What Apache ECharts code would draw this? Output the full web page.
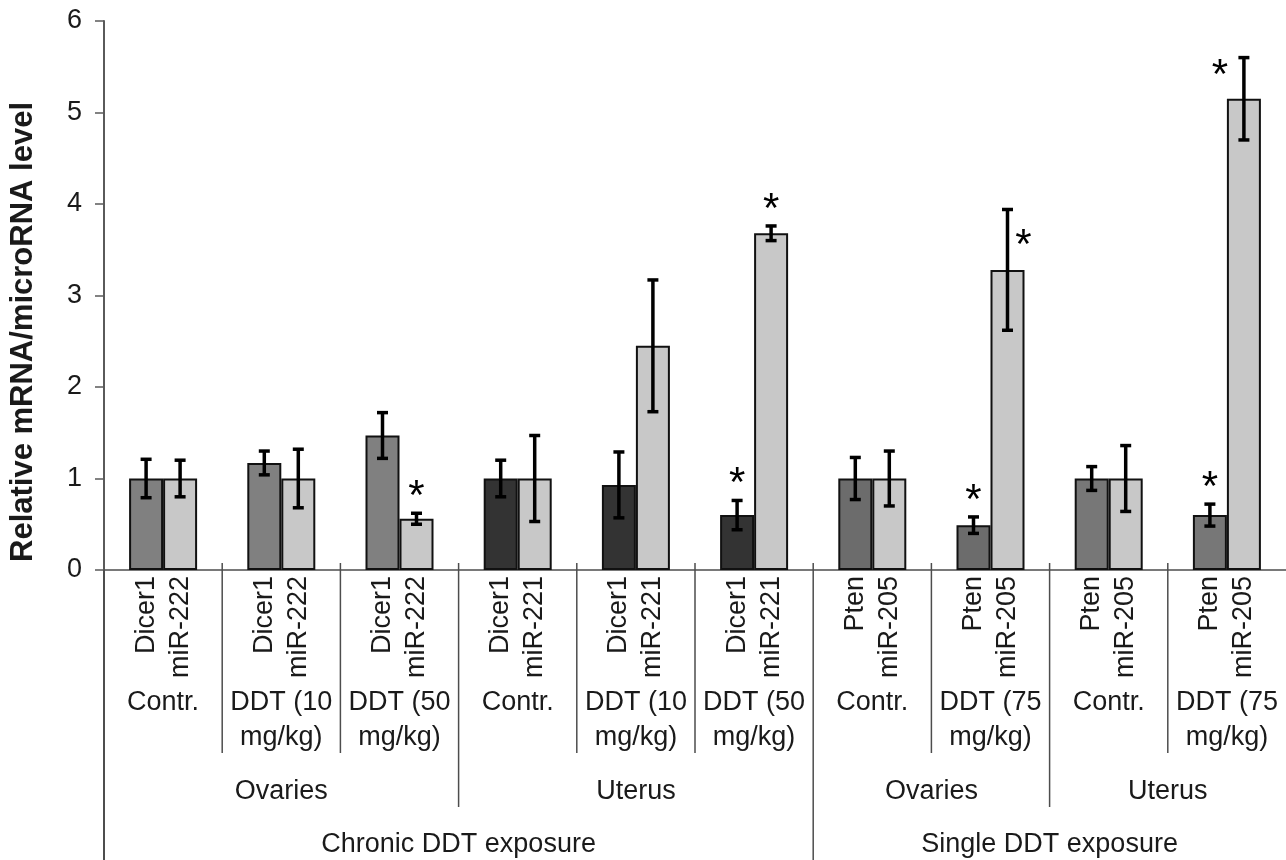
<!DOCTYPE html>
<html>
<head>
<meta charset="utf-8">
<script src="https://cdn.jsdelivr.net/npm/echarts@6/dist/echarts.min.js"></script>
<style>
  html, body { margin: 0; padding: 0; background: #ffffff; }
  #chart { width: 1286px; height: 860px; }
</style>
</head>
<body>
<div id="chart"></div>
<script>
// ---------- data ----------
const categories = ['Contr.', 'DDT (10\nmg/kg)', 'DDT (50\nmg/kg)', 'Contr.', 'DDT (10\nmg/kg)', 'DDT (50\nmg/kg)', 'Contr.', 'DDT (75\nmg/kg)', 'Contr.', 'DDT (75\nmg/kg)'];
const targetGenes = ['Dicer1', 'Dicer1', 'Dicer1', 'Dicer1', 'Dicer1', 'Dicer1', 'Pten', 'Pten', 'Pten', 'Pten'];
const microRNAs = ['miR-222', 'miR-222', 'miR-222', 'miR-221', 'miR-221', 'miR-221', 'miR-205', 'miR-205', 'miR-205', 'miR-205'];
const tissues = ['Ovaries', 'Ovaries', 'Ovaries', 'Uterus', 'Uterus', 'Uterus', 'Ovaries', 'Ovaries', 'Uterus', 'Uterus'];
const exposures = ['Chronic DDT exposure', 'Chronic DDT exposure', 'Chronic DDT exposure', 'Chronic DDT exposure', 'Chronic DDT exposure', 'Chronic DDT exposure', 'Single DDT exposure', 'Single DDT exposure', 'Single DDT exposure', 'Single DDT exposure'];

const geneLevels = [1.00, 1.17, 1.47, 1.00, 0.93, 0.60, 1.00, 0.49, 1.00, 0.60];
const geneErrors = [0.21, 0.13, 0.25, 0.20, 0.36, 0.16, 0.23, 0.09, 0.13, 0.12];
const mirLevels  = [1.00, 1.00, 0.56, 1.00, 2.45, 3.68, 1.00, 3.28, 1.00, 5.15];
const mirErrors  = [0.20, 0.32, 0.06, 0.47, 0.72, 0.08, 0.30, 0.66, 0.36, 0.45];
const geneSignificant = [false, false, false, false, false, true, false, true, false, true];
const mirSignificant  = [false, false, true, false, false, true, false, true, false, true];

const yMin = 0, yMax = 6, yInterval = 1;
const yAxisTitle = 'Relative mRNA/microRNA level';

// ---------- styles ----------
const FONT = '"Liberation Sans", Arial, sans-serif';
const FS = 27;
const TEXT_COLOR = '#1a1a1a';
const LINE_COLOR = '#4d4d4d';
const geneColorFor = (exp, tis) => {
  if (exp.startsWith('Chronic')) return tis === 'Ovaries' ? '#808080' : '#333333';
  return tis === 'Ovaries' ? '#6c6c6c' : '#777777';
};
const MIR_COLOR = '#c8c8c8';
const BAR_W = 34;
// star placement overrides (group index - series side)
const starPlacement = { '7-1': 'right', '9-1': 'left' };

// ---------- derived ----------
const errorData = [];
geneLevels.forEach((v, i) => errorData.push([i, v - geneErrors[i], v + geneErrors[i], 0]));
mirLevels.forEach((v, i) => errorData.push([i, v - mirErrors[i], v + mirErrors[i], 1]));

const starData = [];
geneSignificant.forEach((s, i) => { if (s) starData.push([i, geneLevels[i] + geneErrors[i], 0]); });
mirSignificant.forEach((s, i) => { if (s) starData.push([i, mirLevels[i] + mirErrors[i], 1]); });

function spans(keys) {
  const out = [];
  keys.forEach((k, i) => {
    if (i === 0 || k !== keys[i - 1]) out.push({ key: k, start: i, end: i });
    else out[out.length - 1].end = i;
  });
  return out;
}
const tissueKeys = tissues.map((t, i) => exposures[i] + '|' + t);
const tissueSpans = spans(tissueKeys).map(s => ({ ...s, name: s.key.split('|')[1] }));
const exposureSpans = spans(exposures).map(s => ({ ...s, name: s.key }));

const labelData = categories.map((c, i) => [i, 0]);

const chart = echarts.init(document.getElementById('chart'));

function txt(x, y, text, opts) {
  const style = Object.assign({
    text: text, fill: TEXT_COLOR, font: FS + 'px ' + FONT,
    align: 'center', verticalAlign: 'middle',
    textAlign: 'center', textVerticalAlign: 'middle'
  }, opts || {});
  const el = { type: 'text', x: x, y: y, style: style, silent: true };
  if (style.rotation !== undefined) { el.rotation = style.rotation; delete style.rotation; }
  return el;
}
function ln(x1, y1, x2, y2, w) {
  return { type: 'line', shape: { x1, y1, x2, y2 }, style: { stroke: LINE_COLOR, lineWidth: w || 1.5 }, silent: true };
}

const option = {
  animation: false,
  backgroundColor: '#ffffff',
  grid: { left: 104, right: -12, top: 21, bottom: 290 },
  xAxis: {
    type: 'category',
    data: categories,
    axisLine: { show: true, lineStyle: { color: LINE_COLOR, width: 1.5 } },
    axisTick: { show: false },
    axisLabel: { show: false },
    splitLine: { show: false }
  },
  yAxis: {
    type: 'value',
    min: yMin, max: yMax, interval: yInterval,
    axisLine: { show: true, lineStyle: { color: '#5a5a5a', width: 2 } },
    axisTick: { show: true, length: 9, lineStyle: { color: '#5a5a5a', width: 1.5 } },
    axisLabel: { fontFamily: FONT, fontSize: FS, color: TEXT_COLOR, margin: 22 },
    splitLine: { show: false }
  },
  graphic: [{
    type: 'text', x: 23, y: 332, rotation: Math.PI / 2, silent: true,
    style: {
      text: yAxisTitle, font: 'bold 31px ' + FONT, fill: TEXT_COLOR,
      align: 'center', verticalAlign: 'middle', textAlign: 'center', textVerticalAlign: 'middle'
    }
  }],
  series: [
    {
      type: 'bar', name: 'gene', barWidth: BAR_W, barGap: '0%',
      data: geneLevels.map((v, i) => ({ value: v, itemStyle: { color: geneColorFor(exposures[i], tissues[i]) } })),
      itemStyle: { borderColor: '#111', borderWidth: 2 }
    },
    {
      type: 'bar', name: 'microRNA', barWidth: BAR_W, barGap: '0%',
      data: mirLevels,
      itemStyle: { color: MIR_COLOR, borderColor: '#111', borderWidth: 2 }
    },
    {
      type: 'custom', name: 'errors', clip: false, z: 5,
      data: errorData,
      renderItem: function (params, api) {
        const i = api.value(0), side = api.value(3);
        const lo = api.coord([i, api.value(1)]);
        const hi = api.coord([i, api.value(2)]);
        const x = lo[0] + (side === 0 ? -BAR_W / 2 : BAR_W / 2);
        const cap = 5.5;
        const st = { stroke: '#000', lineWidth: 3.5 };
        return {
          type: 'group', children: [
            { type: 'line', shape: { x1: x, y1: lo[1], x2: x, y2: hi[1] }, style: st },
            { type: 'line', shape: { x1: x - cap, y1: lo[1], x2: x + cap, y2: lo[1] }, style: st },
            { type: 'line', shape: { x1: x - cap, y1: hi[1], x2: x + cap, y2: hi[1] }, style: st }
          ]
        };
      }
    },
    {
      type: 'custom', name: 'stars', clip: false, z: 6,
      data: starData,
      renderItem: function (params, api) {
        const i = api.value(0), side = api.value(2);
        const top = api.coord([i, api.value(1)]);
        let x = top[0] + (side === 0 ? -BAR_W / 2 : BAR_W / 2);
        let y = top[1] - 16;
        const place = starPlacement[i + '-' + side];
        if (place === 'right') { x += 16; y = top[1] + 37; }
        if (place === 'left') { x -= 24; y = top[1] + 19; }
        return txt(x, y, '*', { font: '42px ' + FONT, fill: '#000' });
      }
    },
    {
      type: 'custom', name: 'labels', clip: false, z: 4,
      data: labelData,
      renderItem: function (params, api) {
        const i = api.value(0);
        const p = api.coord([i, 0]);
        const bw = api.size([1, 0])[0];
        const y0 = p[1];
        const left = p[0] - bw / 2;
        const ch = [];
        ch.push(txt(p[0] - BAR_W / 2, y0 + 6, targetGenes[i], { align: 'right', textAlign: 'right', rotation: Math.PI / 2 }));
        ch.push(txt(p[0] + BAR_W / 2, y0 + 6, microRNAs[i], { align: 'right', textAlign: 'right', rotation: Math.PI / 2 }));
        ch.push(txt(p[0], y0 + 115.5, categories[i], { verticalAlign: 'top', textVerticalAlign: 'top', lineHeight: 35 }));
        const bottom = api.getHeight();
        const startsExposure = exposureSpans.some(s => s.start === i);
        const startsTissue = tissueSpans.some(s => s.start === i);
        let yEnd = y0 + 183;
        if (startsTissue) yEnd = y0 + 237;
        if (startsExposure) yEnd = bottom;
        ch.push(ln(left, i === 0 ? y0 : y0 - 7, left, yEnd, i === 0 ? 2 : 1.5));
        tissueSpans.forEach(s => {
          if (s.start === i) {
            const e = api.coord([s.end, 0])[0];
            ch.push(txt((p[0] + e) / 2, y0 + 222, s.name));
          }
        });
        exposureSpans.forEach(s => {
          if (s.start === i) {
            const e = api.coord([s.end, 0])[0];
            ch.push(txt((p[0] + e) / 2, y0 + 275, s.name));
          }
        });
        return { type: 'group', children: ch };
      }
    }
  ]
};
chart.setOption(option);
</script>
</body>
</html>
